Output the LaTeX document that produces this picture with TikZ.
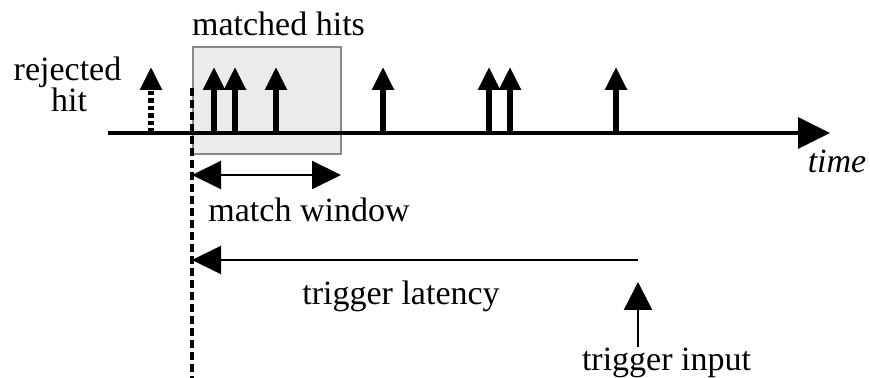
\documentclass[tikz,border=0pt]{standalone}
\usepackage{fontspec}
\setmainfont{Liberation Serif}
\usepackage{tikz}
\usetikzlibrary{positioning}
\usetikzlibrary{arrows.meta}

\begin{document}
\begin{tikzpicture}[
    x = 0.5pt,
    y = -0.5pt,
    font = \fontsize{17}{19}\selectfont,
    ]

    \tikzstyle{lbl}=[inner sep=0pt, anchor=base]
    \tikzstyle{hit}=[line width=2.75pt, -{Triangle[length=11.5pt, width=10.5pt]}]
    \tikzstyle{span}=[line width=1pt, {Triangle[length=14.5pt, width=14pt]}-]

    \useasboundingbox (0,0) rectangle (870,378);

    % window of matched hits
    \node[draw=black!47, fill=black!8, line width=1pt, inner sep=0pt,
          minimum width=74pt, minimum height=53.5pt] (box) at (267,100.5) {};
    \node[lbl] (matched) at (278.5,36) {matched hits};

    % time axis
    \coordinate (a0) at (108,133);
    \coordinate (a1) at (830,133);
    \draw[line width=1.75pt, -{Triangle[length=16pt, width=15.5pt]}] (a0) -- (a1);
    \node[lbl] (time) at (837,173) {\itshape time};

    % hits
    \foreach \n/\x in {1/214,2/235,3/276,4/383,5/489,6/510,7/616} {
        \coordinate (b\n) at (\x,133);
        \coordinate (t\n) at (\x,67);
        \draw[hit] (b\n) -- (t\n);
    }
    \coordinate (r0) at (151,133);
    \coordinate (r1) at (151,67);
    \draw[hit, dash pattern=on 2.25pt off 1.5pt] (r0) -- (r1);
    \node[lbl] (rej) at (67.5,81) {rejected};
    \node[lbl] (rejhit) at (69,112) {hit};

    % trigger
    \coordinate (d0) at (192,88);
    \coordinate (d1) at (192,378);
    \draw[line width=1.75pt, dash pattern=on 4pt off 2pt] (d0) -- (d1);

    \coordinate (w0) at (192,175);
    \coordinate (w1) at (341,175);
    \draw[span, {Triangle[length=14.5pt, width=14pt]}-{Triangle[length=14.5pt, width=14pt]}] (w0) -- (w1);
    \node[lbl] (window) at (309,222) {match window};

    \coordinate (l0) at (192,260);
    \coordinate (l1) at (638,260);
    \draw[span] (l0) -- (l1);
    \node[lbl] (latency) at (401,305) {trigger latency};

    \coordinate (i0) at (638,347);
    \coordinate (i1) at (638,282);
    \draw[line width=1.25pt, -{Triangle[length=14pt, width=14pt]}] (i0) -- (i1);
    \node[lbl] (input) at (666.5,370) {trigger input};
  \end{tikzpicture}
\end{document}
